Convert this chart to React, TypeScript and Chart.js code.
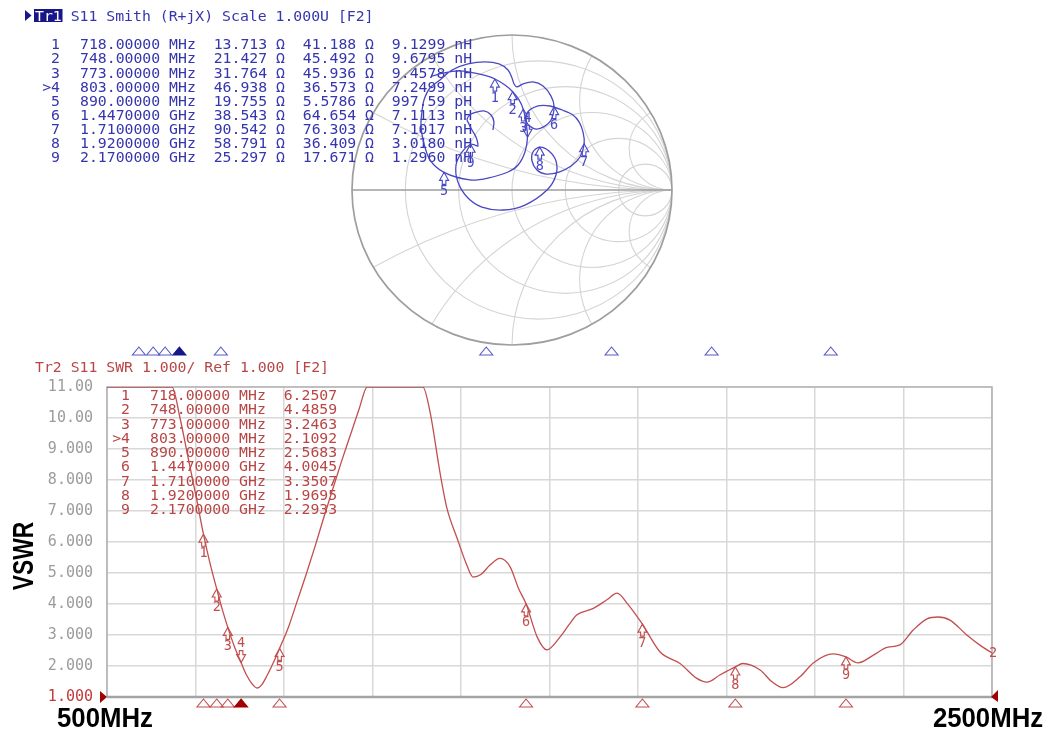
import React, { useEffect, useRef } from "react";
import { Chart, registerables } from "chart.js";

Chart.register(...registerables);

const W = 1049;
const H = 742;
const MONO = '"DejaVu Sans Mono", monospace';
const ADV = 8.91; // advance of one monospace cell at 14.8px

// ---- marker table (shared by both traces) ----
const markerFreqMHz = [718, 748, 773, 803, 890, 1447, 1710, 1920, 2170];
const markerR = [13.713, 21.427, 31.764, 46.938, 19.755, 38.543, 90.542, 58.791, 25.297];
const markerX = [41.188, 45.492, 45.936, 36.573, 5.5786, 64.654, 76.303, 36.409, 17.671];
const markerLnH = [9.1299, 9.6795, 9.4578, 7.2499, 0.99759, 7.1113, 7.1017, 3.018, 1.296];
const markerVswr = [6.2507, 4.4859, 3.2463, 2.1092, 2.5683, 4.0045, 3.3507, 1.9695, 2.2933];
const activeMarker = 4;

// ---- Tr2: SWR trace ----
const vswrFreqMHz = [
  500, 560, 620, 647, 665, 685, 703, 718, 733, 748, 760, 773, 788, 803, 815, 828, 839, 850, 862, 875,
  890, 910, 930, 950, 970, 988, 1010, 1030, 1050, 1070, 1088, 1120, 1160, 1200, 1214, 1230, 1253, 1268,
  1291, 1313, 1327, 1345, 1365, 1388, 1411, 1430, 1447, 1472, 1494, 1524, 1545, 1562, 1598, 1629, 1653,
  1675, 1710, 1750, 1795, 1833, 1856, 1885, 1920, 1937, 1976, 2002, 2028, 2066, 2096, 2141, 2170, 2197,
  2232, 2263, 2292, 2322, 2353, 2378, 2405, 2443, 2475, 2500,
];
const vswrValues = [
  11, 11, 11, 11, 10.0, 8.6, 7.35, 6.2507, 5.3, 4.4859, 3.85, 3.2463, 2.62, 2.1092, 1.72, 1.42, 1.29, 1.4,
  1.7, 2.08, 2.5683, 3.25, 4.1, 4.95, 5.85, 6.7, 7.7, 8.6, 9.45, 10.3, 11, 11, 11, 11, 11, 10.2, 8.2, 7.1,
  6.13, 5.26, 4.87, 4.95, 5.25, 5.47, 5.2, 4.5, 4.0045, 2.94, 2.52, 2.94, 3.35, 3.65, 3.85, 4.13, 4.35,
  4.03, 3.3507, 2.45, 2.08, 1.6, 1.48, 1.71, 1.9695, 2.08, 1.87, 1.5, 1.3, 1.65, 2.1, 2.39, 2.2933, 2.1,
  2.35, 2.6, 2.68, 3.16, 3.52, 3.58, 3.48, 3.0, 2.65, 2.42,
];

// ---- Tr1: S11 on the Smith chart (reflection coefficient, real / imaginary) ----
const smithFreqMHz = [
  500, 560, 620, 660, 690, 718, 735, 748, 760, 773, 788, 803, 815, 828, 839, 852, 865, 890, 910, 935,
  960, 988, 1015, 1045, 1075, 1105, 1140, 1175, 1205, 1240, 1275, 1305, 1327, 1350, 1375, 1400, 1425,
  1447, 1465, 1480, 1494, 1510, 1525, 1545, 1570, 1600, 1630, 1653, 1680, 1710, 1740, 1770, 1800, 1830,
  1856, 1880, 1900, 1920, 1937, 1960, 1985, 2005, 2028, 2050, 2075, 2096, 2120, 2141, 2155, 2170, 2185,
  2197, 2230, 2263, 2292, 2322, 2353, 2378, 2405, 2443, 2470, 2500,
];
const smithRe = [
  -0.5, -0.425, -0.338, -0.263, -0.181, -0.107, -0.044, 0.004, 0.044, 0.07, 0.088, 0.097, 0.081, 0.038,
  -0.025, -0.15, -0.263, -0.425, -0.513, -0.556, -0.569, -0.563, -0.55, -0.513, -0.45, -0.375, -0.275,
  -0.169, -0.081, -0.025, 0.0, 0.013, 0.031, 0.069, 0.131, 0.194, 0.244, 0.263, 0.244, 0.194, 0.144,
  0.094, 0.094, 0.163, 0.238, 0.313, 0.381, 0.419, 0.444, 0.451, 0.425, 0.369, 0.294, 0.213, 0.156,
  0.125, 0.131, 0.173, 0.231, 0.275, 0.275, 0.219, 0.081, -0.056, -0.188, -0.275, -0.338, -0.35, -0.313,
  -0.259, -0.231, -0.213, -0.225, -0.25, -0.269, -0.281, -0.256, -0.219, -0.175, -0.131, -0.113, -0.119,
];
const smithIm = [
  0.735, 0.755, 0.768, 0.761, 0.742, 0.716, 0.677, 0.634, 0.581, 0.522, 0.432, 0.341, 0.245, 0.161, 0.116,
  0.077, 0.065, 0.114, 0.194, 0.323, 0.426, 0.503, 0.581, 0.658, 0.71, 0.774, 0.813, 0.826, 0.813, 0.774,
  0.723, 0.684, 0.665, 0.684, 0.697, 0.671, 0.606, 0.538, 0.452, 0.406, 0.394, 0.432, 0.497, 0.542, 0.542,
  0.516, 0.484, 0.439, 0.374, 0.298, 0.213, 0.155, 0.116, 0.103, 0.129, 0.187, 0.245, 0.277, 0.252, 0.187,
  0.097, 0.0, -0.097, -0.129, -0.11, -0.052, 0.052, 0.161, 0.245, 0.295, 0.29, 0.284, 0.342, 0.387, 0.426,
  0.458, 0.49, 0.503, 0.51, 0.484, 0.439, 0.387,
];

// Smith grid: constant-resistance circles and constant-reactance arcs (normalised)
const resistanceGrid = [0.2, 0.5, 1, 2, 5];
const reactanceGrid = [0.268, 0.577, 1, 1.732, 3.732];

const smithBlue = "#4848c4";
const smithText = "#3535ae";
const navy = "#17178a";
const vswrRed = "#c24e4e";
const vswrText = "#b84646";
const darkRed = "#a00000";

function reflection(r: number, x: number) {
  const a = r / 50;
  const b = x / 50;
  const den = (a + 1) * (a + 1) + b * b;
  return { x: (a * a - 1 + b * b) / den, y: (2 * b) / den };
}

const fmtFreq = (f: number) => (f < 1000 ? f.toFixed(5) : (f / 1000).toFixed(7));
const fmtUnit = (f: number) => (f < 1000 ? "MHz" : "GHz");
const fmtL = (l: number) => (l < 1 ? [(l * 1000).toFixed(2), "pH"] : [l.toFixed(4), "nH"]);
const markerName = (i: number) => (i + 1 === activeMarker ? ">" : "") + (i + 1);

function drawMarker(
  ctx: CanvasRenderingContext2D,
  x: number,
  y: number,
  label: string,
  color: string,
  inverted: boolean
) {
  const s = inverted ? -1 : 1;
  ctx.beginPath();
  ctx.moveTo(x, y);
  ctx.lineTo(x + 4.5, y + 8 * s);
  ctx.lineTo(x + 1.8, y + 8 * s);
  ctx.lineTo(x + 1.8, y + 12 * s);
  ctx.lineTo(x - 1.8, y + 12 * s);
  ctx.lineTo(x - 1.8, y + 8 * s);
  ctx.lineTo(x - 4.5, y + 8 * s);
  ctx.closePath();
  ctx.strokeStyle = color;
  ctx.lineWidth = 1.1;
  ctx.stroke();
  ctx.fillStyle = color;
  ctx.font = `13.5px ${MONO}`;
  ctx.textAlign = "center";
  ctx.textBaseline = "middle";
  ctx.fillText(label, x, y + 19 * s);
}

function drawStimulus(ctx: CanvasRenderingContext2D, x: number, tip: number, color: string, fill: string | null) {
  ctx.beginPath();
  ctx.moveTo(x, tip);
  ctx.lineTo(x + 6.5, tip + 8);
  ctx.lineTo(x - 6.5, tip + 8);
  ctx.closePath();
  if (fill) {
    ctx.fillStyle = fill;
    ctx.fill();
  }
  ctx.strokeStyle = color;
  ctx.lineWidth = 1.1;
  ctx.stroke();
}

// stimulus strip of the Smith trace (start/stop frequency across the window)
const STIM_LEFT = 35;
const STIM_RIGHT = 988;

const smithDecor = {
  id: "smithDecor",
  beforeDatasetsDraw(chart: any) {
    const ctx: CanvasRenderingContext2D = chart.ctx;
    const xs = chart.scales.x;
    const ys = chart.scales.y;
    const cx = xs.getPixelForValue(0);
    const cy = ys.getPixelForValue(0);
    const kx = xs.getPixelForValue(1) - cx;
    const ky = cy - ys.getPixelForValue(1);

    ctx.save();
    ctx.beginPath();
    ctx.ellipse(cx, cy, kx, ky, 0, 0, Math.PI * 2);
    ctx.clip();
    ctx.strokeStyle = "#d4d4d4";
    ctx.lineWidth = 1.1;
    resistanceGrid.forEach((r) => {
      const c = r / (1 + r);
      const rad = 1 / (1 + r);
      ctx.beginPath();
      ctx.ellipse(xs.getPixelForValue(c), cy, rad * kx, rad * ky, 0, 0, Math.PI * 2);
      ctx.stroke();
    });
    reactanceGrid.forEach((xv) => {
      [1, -1].forEach((sg) => {
        const rad = 1 / xv;
        ctx.beginPath();
        ctx.ellipse(xs.getPixelForValue(1), ys.getPixelForValue(sg / xv), rad * kx, rad * ky, 0, 0, Math.PI * 2);
        ctx.stroke();
      });
    });
    ctx.restore();

    ctx.save();
    ctx.strokeStyle = "#9e9e9e";
    ctx.lineWidth = 1.7;
    ctx.beginPath();
    ctx.ellipse(cx, cy, kx, ky, 0, 0, Math.PI * 2);
    ctx.stroke();
    ctx.beginPath();
    ctx.moveTo(xs.getPixelForValue(-1), cy);
    ctx.lineTo(xs.getPixelForValue(1), cy);
    ctx.stroke();

    // header
    ctx.fillStyle = navy;
    ctx.beginPath();
    ctx.moveTo(25, 10);
    ctx.lineTo(31.5, 15.5);
    ctx.lineTo(25, 21);
    ctx.closePath();
    ctx.fill();
    ctx.fillRect(34, 9, 28.5, 13);
    ctx.font = `14.8px ${MONO}`;
    ctx.textBaseline = "alphabetic";
    ctx.textAlign = "left";
    ctx.fillStyle = "#ffffff";
    ctx.fillText("Tr1", 35, 20.5);
    ctx.fillStyle = smithText;
    ctx.fillText("S11 Smith (R+jX) Scale 1.000U [F2]", 35 + 4 * ADV, 20.5);

    // marker table
    markerFreqMHz.forEach((f, i) => {
      const y = 49.2 + i * 14.15;
      const x0 = 80;
      ctx.textAlign = "right";
      ctx.fillText(markerName(i), 60, y);
      ctx.textAlign = "left";
      const [lv, lu] = fmtL(markerLnH[i]);
      ctx.fillText(fmtFreq(f), x0, y);
      ctx.fillText(fmtUnit(f), x0 + 10 * ADV, y);
      ctx.fillText(markerR[i].toPrecision(5), x0 + 15 * ADV, y);
      ctx.fillText("\u03A9", x0 + 22 * ADV, y);
      ctx.fillText(markerX[i].toPrecision(5), x0 + 25 * ADV, y);
      ctx.fillText("\u03A9", x0 + 32 * ADV, y);
      ctx.fillText(lv, x0 + 35 * ADV, y);
      ctx.fillText(lu, x0 + 42 * ADV, y);
    });

    // stimulus positions of the markers
    markerFreqMHz.forEach((f, i) => {
      const x = STIM_LEFT + ((f - 500) / 2000) * (STIM_RIGHT - STIM_LEFT);
      const active = i + 1 === activeMarker;
      drawStimulus(ctx, x, 347, active ? navy : "#5a5ac8", active ? navy : null);
    });
    ctx.restore();
  },
  afterDatasetsDraw(chart: any) {
    const ctx: CanvasRenderingContext2D = chart.ctx;
    const xs = chart.scales.x;
    const ys = chart.scales.y;
    ctx.save();
    markerFreqMHz.forEach((_, i) => {
      const g = reflection(markerR[i], markerX[i]);
      drawMarker(
        ctx,
        xs.getPixelForValue(g.x),
        ys.getPixelForValue(g.y),
        String(i + 1),
        smithBlue,
        i + 1 === activeMarker
      );
    });
    ctx.restore();
  },
};

const vswrDecor = {
  id: "vswrDecor",
  beforeDatasetsDraw(chart: any) {
    const ctx: CanvasRenderingContext2D = chart.ctx;
    const a = chart.chartArea;
    ctx.save();
    ctx.strokeStyle = "#b4b4b4";
    ctx.lineWidth = 1.6;
    ctx.beginPath();
    ctx.moveTo(a.left, a.bottom);
    ctx.lineTo(a.left, a.top);
    ctx.lineTo(a.right, a.top);
    ctx.lineTo(a.right, a.bottom);
    ctx.stroke();
    ctx.strokeStyle = "#a4a4a4";
    ctx.lineWidth = 2.6;
    ctx.beginPath();
    ctx.moveTo(a.left, a.bottom);
    ctx.lineTo(a.right, a.bottom);
    ctx.stroke();

    ctx.font = `14.8px ${MONO}`;
    ctx.fillStyle = vswrText;
    ctx.textBaseline = "alphabetic";
    ctx.textAlign = "left";
    ctx.fillText("Tr2 S11 SWR 1.000/ Ref 1.000 [F2]", 35, 372);
    markerFreqMHz.forEach((f, i) => {
      const y = 400 + i * 14.25;
      const x0 = 150;
      ctx.textAlign = "right";
      ctx.fillText(markerName(i), 130, y);
      ctx.textAlign = "left";
      ctx.fillText(fmtFreq(f), x0, y);
      ctx.fillText(fmtUnit(f), x0 + 10 * ADV, y);
      ctx.fillText(markerVswr[i].toPrecision(5), x0 + 15 * ADV, y);
    });
    ctx.restore();
  },
  afterDatasetsDraw(chart: any) {
    const ctx: CanvasRenderingContext2D = chart.ctx;
    const xs = chart.scales.x;
    const ys = chart.scales.y;
    const a = chart.chartArea;
    ctx.save();
    markerFreqMHz.forEach((f, i) => {
      const active = i + 1 === activeMarker;
      drawMarker(ctx, xs.getPixelForValue(f), ys.getPixelForValue(markerVswr[i]), String(i + 1), vswrRed, active);
      drawStimulus(ctx, xs.getPixelForValue(f), a.bottom + 2, active ? darkRed : vswrRed, active ? darkRed : null);
    });

    // trace number at the stop end
    const last = vswrValues[vswrValues.length - 1];
    ctx.fillStyle = vswrRed;
    ctx.font = `13.5px ${MONO}`;
    ctx.textAlign = "left";
    ctx.textBaseline = "middle";
    ctx.fillText("2", xs.getPixelForValue(2500) - 3, ys.getPixelForValue(last) + 1);

    // reference position pointers
    const yRef = ys.getPixelForValue(1);
    ctx.fillStyle = darkRed;
    ctx.beginPath();
    ctx.moveTo(a.left - 7, yRef - 6);
    ctx.lineTo(a.left, yRef);
    ctx.lineTo(a.left - 7, yRef + 6);
    ctx.closePath();
    ctx.fill();
    ctx.beginPath();
    ctx.moveTo(a.right + 6, yRef - 7);
    ctx.lineTo(a.right + 6, yRef + 5);
    ctx.lineTo(a.right - 1, yRef);
    ctx.closePath();
    ctx.fill();

    // start / stop labels
    ctx.fillStyle = "#000";
    ctx.textBaseline = "alphabetic";
    ctx.textAlign = "center";
    ctx.font = 'bold 28px "Liberation Sans", Arial, sans-serif';
    [
      ["500MHz", xs.getPixelForValue(500) - 2],
      ["2500MHz", xs.getPixelForValue(2500) - 4],
    ].forEach(([t, x]) => {
      ctx.save();
      ctx.translate(x as number, 727);
      ctx.scale(0.92, 1);
      ctx.fillText(t as string, 0, 0);
      ctx.restore();
    });

    // axis title
    ctx.save();
    ctx.translate(22.5, 556);
    ctx.rotate(-Math.PI / 2);
    ctx.scale(0.76, 1);
    ctx.font = 'bold 30px "Liberation Sans", Arial, sans-serif';
    ctx.fillText("VSWR", 0, 10.7);
    ctx.restore();
    ctx.restore();
  },
};

export default function App() {
  const smithRef = useRef<HTMLCanvasElement>(null);
  const vswrRef = useRef<HTMLCanvasElement>(null);

  useEffect(() => {
    const smith = new Chart(smithRef.current as HTMLCanvasElement, {
      type: "scatter",
      data: {
        datasets: [
          {
            data: smithFreqMHz.map((_, i) => ({ x: smithRe[i], y: smithIm[i] })),
            showLine: true,
            borderColor: smithBlue,
            borderWidth: 1.3,
            pointRadius: 0,
            tension: 0.3,
            fill: false,
          } as any,
        ],
      },
      options: {
        responsive: false,
        animation: false,
        events: [],
        layout: { padding: { left: 352, right: 377, top: 35, bottom: 397 } },
        scales: {
          x: { type: "linear", min: -1, max: 1, display: false },
          y: { type: "linear", min: -1, max: 1, display: false },
        },
        plugins: { legend: { display: false }, tooltip: { enabled: false } },
      },
      plugins: [smithDecor],
    });

    const vswr = new Chart(vswrRef.current as HTMLCanvasElement, {
      type: "line",
      data: {
        datasets: [
          {
            data: vswrFreqMHz.map((f, i) => ({ x: f, y: vswrValues[i] })),
            borderColor: vswrRed,
            borderWidth: 1.3,
            pointRadius: 0,
            cubicInterpolationMode: "monotone",
            fill: false,
          } as any,
        ],
      },
      options: {
        responsive: false,
        animation: false,
        events: [],
        layout: { padding: { left: 35, right: 57, top: 387, bottom: 45 } },
        scales: {
          x: {
            type: "linear",
            min: 500,
            max: 2500,
            ticks: { display: false, stepSize: 200 },
            grid: { color: "#d8d8d8", lineWidth: 1.5, drawTicks: false },
            border: { display: false },
            afterFit: (s: any) => {
              s.height = 0;
            },
          },
          y: {
            type: "linear",
            min: 1,
            max: 11,
            ticks: {
              stepSize: 1,
              padding: 14,
              color: (c: any) => (c.tick && c.tick.value === 1 ? "#c23a3a" : "#9c9c9c"),
              font: { family: MONO, size: 15 },
              callback: (v: any) => (Number(v) >= 10 ? Number(v).toFixed(2) : Number(v).toFixed(3)),
            },
            grid: { color: "#d8d8d8", lineWidth: 1.5, drawTicks: false },
            border: { display: false },
            afterFit: (s: any) => {
              s.width = 72;
            },
          },
        },
        plugins: { legend: { display: false }, tooltip: { enabled: false } },
      } as any,
      plugins: [vswrDecor],
    });

    return () => {
      smith.destroy();
      vswr.destroy();
    };
  }, []);

  const canvasStyle: React.CSSProperties = { position: "absolute", left: 0, top: 0, width: W, height: H };
  return (
    <div style={{ position: "fixed", left: 0, top: 0, width: W, height: H, background: "#ffffff", overflow: "hidden" }}>
      <canvas ref={smithRef} width={W} height={H} style={canvasStyle} />
      <canvas ref={vswrRef} width={W} height={H} style={canvasStyle} />
    </div>
  );
}
